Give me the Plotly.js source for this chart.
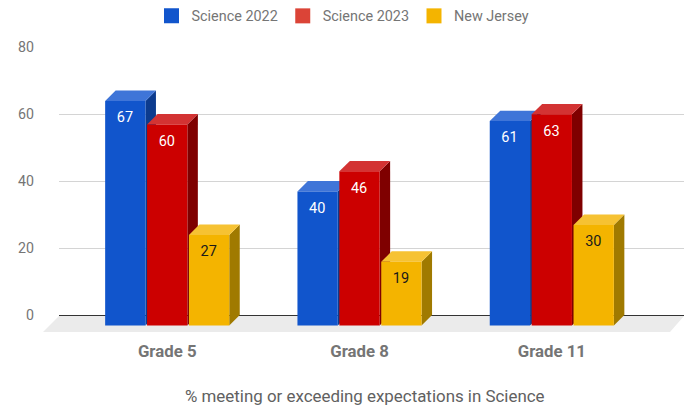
<!DOCTYPE html>
<html>
<head>
<meta charset="utf-8">
<script src="https://cdn.plot.ly/plotly-3.0.1.min.js"></script>
<style>html,body{margin:0;padding:0;background:#fff}#chart{width:684px;height:409px}</style>
</head>
<body>
<div id="chart"></div>
<script>
const categories = ['Grade 5', 'Grade 8', 'Grade 11'];
const science2022 = [67, 40, 61];
const science2023 = [60, 46, 63];
const newJersey = [27, 19, 30];
const seriesNames = ['Science 2022', 'Science 2023', 'New Jersey'];
const yTicks = [0, 20, 40, 60, 80];
const axisTitle = '% meeting or exceeding expectations in Science';

const seriesValues = [science2022, science2023, newJersey];
const frontColors = ['#1155CC', '#CC0000', '#F4B400'];
const topColors = ['#3F75D8', '#D33333', '#F6C233'];
const sideColors = ['#0C3B8E', '#7F0000', '#A07A00'];
const legendColors = ['#1155CC', '#DB4437', '#F4B400'];
const labelColors = ['#FFFFFF', '#FFFFFF', '#1A1A1A'];

const W = 684, H = 409, L = 59, R = 684, T = 47, B = 332;
const groupPx = 192.3, firstCentre = 167.2;
const xMin = (L - firstCentre) / groupPx, xMax = (R - firstCentre) / groupPx;
const pxPerUnit = 3.35;
const yMin = -(B - 315) / pxPerUnit;
const barW = 40.3 / groupPx, barStep = 41.9 / groupPx, depthX = 10.5 / groupPx, depthY = 3.1;

const traces = [], shapes = [];
const fx = v => (v - L) / (R - L);
const fy = v => (B - v) / (B - T);
shapes.push({
  type: 'path', xref: 'paper', yref: 'paper', layer: 'below',
  path: `M${fx(59)},${fy(316)} L${fx(684)},${fy(316)} L${fx(670)},${fy(332)} L${fx(43)},${fy(332)} Z`,
  fillcolor: '#EBEBEB', line: {width: 0}
});

seriesValues.forEach((vals, s) => {
  const xs = categories.map((_, i) => i + (s - 1) * barStep);
  traces.push({
    type: 'bar', x: xs, y: vals, base: -depthY, width: barW,
    marker: {color: frontColors[s], line: {width: 0}},
    showlegend: false, hoverinfo: 'skip'
  });
  vals.forEach((v, i) => {
    const xl = xs[i] - barW / 2, xr = xs[i] + barW / 2, yf = v - depthY;
    shapes.push({
      type: 'path', xref: 'x', yref: 'y', layer: 'between',
      path: `M${xr},${-depthY} L${xr + depthX},0 L${xr + depthX},${v} L${xr},${yf} Z`,
      fillcolor: sideColors[s], line: {width: 0}
    });
    shapes.push({
      type: 'path', xref: 'x', yref: 'y', layer: 'between',
      path: `M${xl},${yf} L${xl + depthX},${v} L${xr + depthX},${v} L${xr},${yf} Z`,
      fillcolor: topColors[s], line: {width: 0}
    });
  });
});
seriesValues.forEach((vals, s) => {
  traces.push({
    type: 'scatter', mode: 'text',
    x: categories.map((_, i) => i + (s - 1) * barStep - 0.002),
    y: vals.map(v => v - depthY - 5.3),
    text: vals.map(String), textposition: 'middle center',
    textfont: {family: 'Roboto', size: 14.5, color: labelColors[s]},
    showlegend: false, hoverinfo: 'skip', cliponaxis: false
  });
  traces.push({
    type: 'scatter', mode: 'markers', x: [null], y: [null], name: seriesNames[s],
    marker: {symbol: 'square', size: 15, color: legendColors[s]},
    showlegend: true, hoverinfo: 'skip'
  });
});

const layout = {
  width: W, height: H,
  margin: {l: L, r: W - R, t: T, b: H - B, pad: 0},
  paper_bgcolor: '#FFFFFF', plot_bgcolor: 'rgba(0,0,0,0)',
  barmode: 'overlay', shapes,
  font: {family: 'Roboto', color: '#757575'},
  showlegend: true,
  legend: {
    orientation: 'h', x: fx(343), xref: 'paper', y: 1, yref: 'container', xanchor: 'center', yanchor: 'top',
    font: {family: 'Roboto', size: 14.4, color: '#757575'}, itemclick: false, itemdoubleclick: false,
    tracegroupgap: 0, bgcolor: 'rgba(0,0,0,0)'
  },
  xaxis: {
    type: 'linear', range: [xMin, xMax], tickmode: 'array', tickvals: categories.map((_, i) => i),
    ticktext: categories, showgrid: false, zeroline: false, showline: false, ticks: '',
    ticklabelstandoff: 7, tickfont: {family: 'Roboto', size: 16.8, weight: 700, color: '#757575'}
  },
  yaxis: {
    range: [yMin, 80], tickmode: 'array', tickvals: yTicks, showgrid: true, gridcolor: '#D4D4D4', gridwidth: 1,
    zeroline: true, zerolinecolor: '#333333', zerolinewidth: 1, showline: false, ticks: '',
    ticklabelstandoff: 24, tickfont: {family: 'Roboto', size: 14.2, color: '#757575'}
  },
  annotations: [{
    xref: 'paper', yref: 'paper', x: fx(364.5), y: fy(396), xanchor: 'center', yanchor: 'middle',
    text: axisTitle, showarrow: false, font: {family: 'Roboto', size: 16.9, color: '#616161'}
  }]
};
Plotly.newPlot('chart', traces, layout, {displayModeBar: false, staticPlot: true});
</script>
</body>
</html>
